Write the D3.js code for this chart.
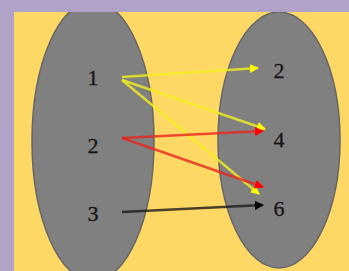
<!DOCTYPE html>
<html>
<head>
<meta charset="utf-8">
<script src="https://cdn.jsdelivr.net/npm/d3@7"></script>
<style>
  body { margin: 0; background: #b1a2c7; }
  svg { display: block; }
</style>
</head>
<body>
<div id="chart"></div>
<script>
var width = 349;
var height = 271;

// domain and codomain of the mapping
var leftLabels = ["1", "2", "3"];
var rightLabels = ["2", "4", "6"];

// arrows: from left label to right label
var linkFrom = ["1", "1", "1", "2", "2", "3"];
var linkTo   = ["2", "4", "6", "4", "6", "6"];
var linkColor = ["#f2f01e", "#f2f01e", "#f2f01e", "#e8261e", "#e8261e", "#1a1a1a"];
var headColor = ["#ffff00", "#ffff00", "#ffff00", "#ff0000", "#ff0000", "#000000"];

var svg = d3.select("#chart")
  .append("svg")
  .attr("width", width)
  .attr("height", height);

// yellow panel inside the purple frame
svg.append("rect")
  .attr("x", 14)
  .attr("y", 12)
  .attr("width", width - 14)
  .attr("height", height - 12)
  .attr("fill", "#fed865");

var panel = svg.append("g");
panel.append("clipPath").attr("id", "clip")
  .append("rect")
  .attr("x", 14).attr("y", 12)
  .attr("width", width - 14).attr("height", height - 12);

var yLeft = d3.scalePoint().domain(leftLabels).range([77, 213]);
var yRight = d3.scalePoint().domain(rightLabels).range([70, 208]);
var xLeft = 93, xRight = 279;

var sets = panel.append("g").attr("clip-path", "url(#clip)");
sets.append("ellipse")
  .attr("cx", xLeft).attr("cy", 141)
  .attr("rx", 61).attr("ry", 140)
  .attr("fill", "#808080")
  .attr("stroke", "#666")
  .attr("stroke-width", 1.5);
sets.append("ellipse")
  .attr("cx", xRight).attr("cy", 140)
  .attr("rx", 61).attr("ry", 128)
  .attr("fill", "#808080")
  .attr("stroke", "#666")
  .attr("stroke-width", 1.5);

function labels(cls, data, x, y) {
  panel.selectAll("text." + cls)
    .data(data).enter()
    .append("text")
    .attr("class", cls)
    .attr("x", x)
    .attr("y", function(d) { return y(d); })
    .attr("dy", "0.35em")
    .attr("text-anchor", "middle")
    .attr("font-family", "Liberation Serif, serif")
    .attr("font-size", 22)
    .attr("fill", "#161616")
    .attr("stroke", "#161616")
    .attr("stroke-width", 0.3)
    .text(function(d) { return d; });
}
labels("left", leftLabels, xLeft, yLeft);
labels("right", rightLabels, xRight, yRight);

// small nudges so the arrow heads stack like the original
var startDy = [0, 3, 3, -7, -7, -1];
var endDy = [-2, -10, -14, -8, -21, -3];
var endDx = [-21, -14, -20, -16, -16, -16];

var defs = svg.append("defs");
headColor.forEach(function(c, i) {
  defs.append("marker")
    .attr("id", "head" + i)
    .attr("viewBox", "0 -5 10 10")
    .attr("refX", 9)
    .attr("refY", 0)
    .attr("markerUnits", "userSpaceOnUse")
    .attr("markerWidth", 9)
    .attr("markerHeight", 9)
    .attr("orient", "auto")
    .append("path")
    .attr("d", "M0,-5L10,0L0,5Z")
    .attr("fill", c);
});

var links = linkFrom.map(function(f, i) {
  return {i: i, from: f, to: linkTo[i]};
});

panel.selectAll("line.link")
  .data(links).enter()
  .append("line")
  .attr("class", "link")
  .attr("x1", xLeft + 29)
  .attr("y1", function(d) { return yLeft(d.from) + startDy[d.i]; })
  .attr("x2", function(d) { return xRight + endDx[d.i]; })
  .attr("y2", function(d) { return yRight(d.to) + endDy[d.i]; })
  .attr("stroke", function(d) { return linkColor[d.i]; })
  .attr("stroke-opacity", 0.8)
  .attr("stroke-width", 2.5)
  .attr("marker-end", function(d) { return "url(#head" + d.i + ")"; });
</script>
</body>
</html>
